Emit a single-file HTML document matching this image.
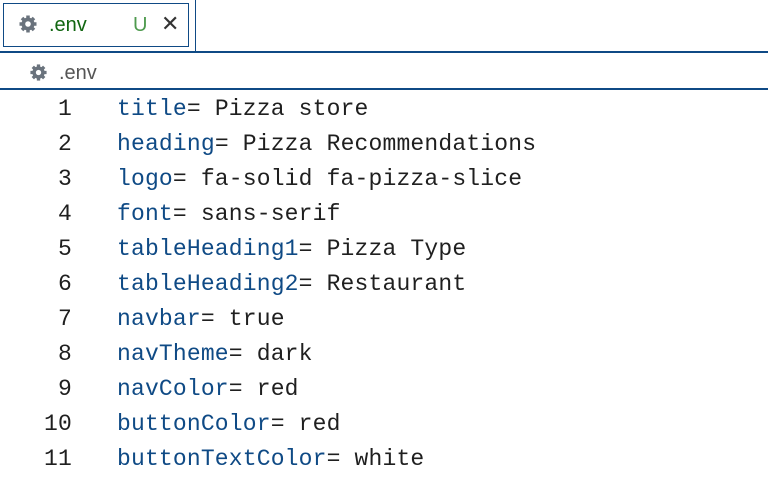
<!DOCTYPE html>
<html><head><style>
body{margin:0;width:768px;height:480px;background:#fff;position:relative;overflow:hidden;font-family:"Liberation Sans",sans-serif}
.tab{position:absolute;left:3px;top:3px;width:184px;height:42px;border:1.5px solid #0f4a85;box-sizing:content-box}
.vl{position:absolute;left:195px;top:0;width:1px;height:52px;background:#0f4a85}
.hl{position:absolute;left:0;width:768px;height:2px;background:#0f4a85}
.t{position:absolute;white-space:pre;font-size:20px}
.code{position:absolute;left:0;top:92px;font-family:"Liberation Mono",monospace;font-size:23px;letter-spacing:0.17px;color:#1f1f1f}
.ln{position:absolute;height:35px;line-height:35px;white-space:pre}
.n{left:0;width:72px;text-align:right}
.c{left:117px}
.k{color:#0f4a85}
</style></head><body>
<div class="tab"></div>
<svg style="position:absolute;left:18px;top:14px" width="20" height="20" viewBox="0 0 20 20"><g fill="#6a737d"><circle cx="10" cy="10" r="6.5"/><g stroke="#6a737d" stroke-width="3.5"><line x1="10" y1="1.5" x2="10" y2="18.5"/><line x1="1.5" y1="10" x2="18.5" y2="10"/><line x1="4" y1="4" x2="16" y2="16"/><line x1="16" y1="4" x2="4" y2="16"/></g></g><circle cx="10" cy="10" r="2.8" fill="#fff"/></svg>
<div class="t" style="left:49px;top:14px;color:#116611">.env</div>
<div class="t" style="left:133px;top:14px;color:#4e9a4e">U</div>
<div class="t" style="left:161px;top:11px;color:#333;font-size:22px">✕</div>
<div class="vl"></div>
<div class="hl" style="top:51px"></div>
<svg style="position:absolute;left:29px;top:63px" width="19" height="19" viewBox="0 0 20 20"><g fill="#6a737d"><circle cx="10" cy="10" r="6.5"/><g stroke="#6a737d" stroke-width="3.5"><line x1="10" y1="1.5" x2="10" y2="18.5"/><line x1="1.5" y1="10" x2="18.5" y2="10"/><line x1="4" y1="4" x2="16" y2="16"/><line x1="16" y1="4" x2="4" y2="16"/></g></g><circle cx="10" cy="10" r="2.8" fill="#fff"/></svg>
<div class="t" style="left:59px;top:62px;color:#555">.env</div>
<div class="hl" style="top:88px"></div>
<div class="code">
<div class="ln n" style="top:0">1</div><div class="ln c" style="top:0"><span class="k">title</span>= Pizza store</div>
<div class="ln n" style="top:35px">2</div><div class="ln c" style="top:35px"><span class="k">heading</span>= Pizza Recommendations</div>
<div class="ln n" style="top:70px">3</div><div class="ln c" style="top:70px"><span class="k">logo</span>= fa-solid fa-pizza-slice</div>
<div class="ln n" style="top:105px">4</div><div class="ln c" style="top:105px"><span class="k">font</span>= sans-serif</div>
<div class="ln n" style="top:140px">5</div><div class="ln c" style="top:140px"><span class="k">tableHeading1</span>= Pizza Type</div>
<div class="ln n" style="top:175px">6</div><div class="ln c" style="top:175px"><span class="k">tableHeading2</span>= Restaurant</div>
<div class="ln n" style="top:210px">7</div><div class="ln c" style="top:210px"><span class="k">navbar</span>= true</div>
<div class="ln n" style="top:245px">8</div><div class="ln c" style="top:245px"><span class="k">navTheme</span>= dark</div>
<div class="ln n" style="top:280px">9</div><div class="ln c" style="top:280px"><span class="k">navColor</span>= red</div>
<div class="ln n" style="top:315px">10</div><div class="ln c" style="top:315px"><span class="k">buttonColor</span>= red</div>
<div class="ln n" style="top:350px">11</div><div class="ln c" style="top:350px"><span class="k">buttonTextColor</span>= white</div>
</div>
</body></html>
